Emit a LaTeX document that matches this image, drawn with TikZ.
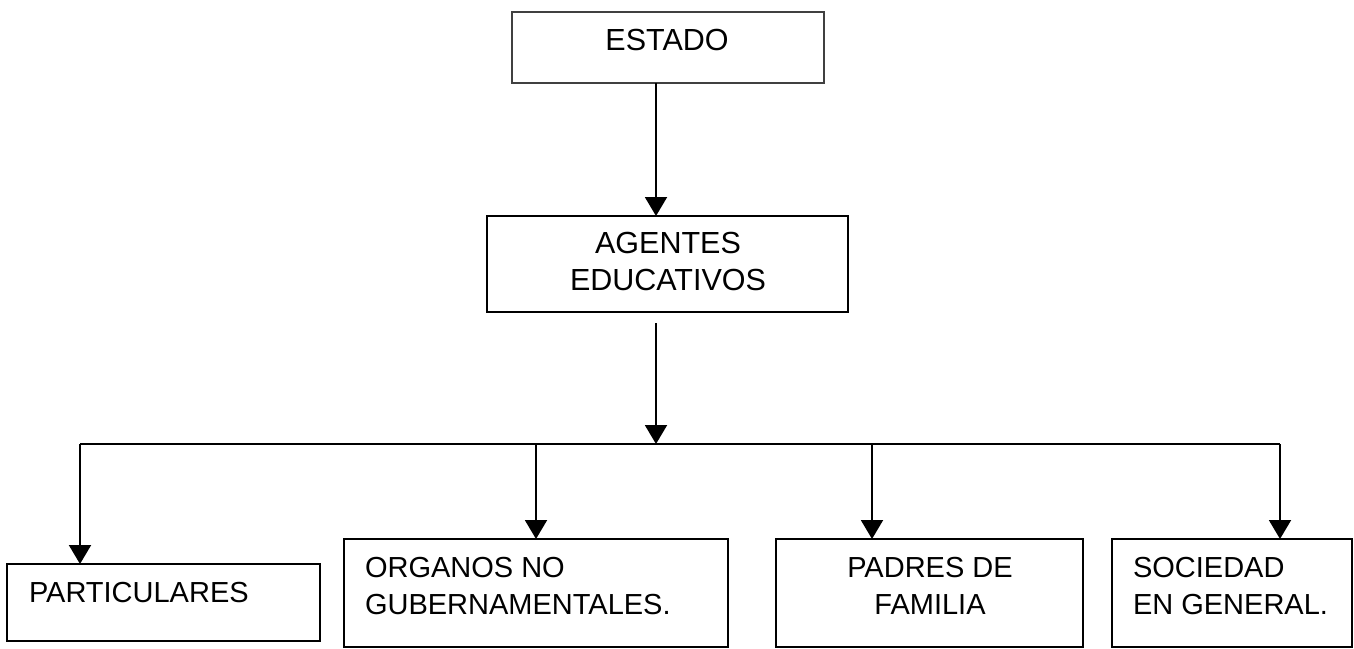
\documentclass[tikz,border=0pt]{standalone}
\usepackage{fontspec}
\setmainfont{Liberation Sans}
\usetikzlibrary{arrows.meta}
\tikzset{
  box/.style={draw=black, line width=2pt, inner sep=0pt, outer sep=0pt, rectangle},
  thinbox/.style={draw=black!75, line width=1.3pt, inner sep=0pt, outer sep=0pt, rectangle},
  txt/.style={inner sep=0pt, outer sep=0pt, font=\fontsize{29}{37}\selectfont},
  bigtxt/.style={inner sep=0pt, outer sep=0pt, font=\fontsize{30.5}{37}\selectfont},
  conn/.style={line width=2pt, draw=black},
  arr/.style={conn, -{Triangle[width=22pt,length=19pt]}}
}
\begin{document}
\begin{tikzpicture}[x=1pt,y=-1pt]
\useasboundingbox[fill=white] (0,0) rectangle (1354,648);
% boxes
\node[thinbox, minimum width=312pt, minimum height=71pt] (estado) at (668,47.5) {};
\node[box, minimum width=361pt, minimum height=96pt] (agentes) at (667.5,264) {};
\node[box, minimum width=313pt, minimum height=77pt] (part) at (163.5,602.5) {};
\node[box, minimum width=384pt, minimum height=108pt] (org) at (536,593) {};
\node[box, minimum width=307pt, minimum height=108pt] (padres) at (929.5,593) {};
\node[box, minimum width=240pt, minimum height=108pt] (soc) at (1232,593) {};
% texts
\node[bigtxt, anchor=north] (testado) at (667,29.5) {ESTADO};
\node[bigtxt, anchor=north, align=center] (tagentes) at (668,232) {AGENTES\\EDUCATIVOS};
\node[txt, anchor=north west] (tpart) at (29,582) {PARTICULARES};
\node[txt, anchor=north west, align=left] (torg) at (365,557) {ORGANOS NO\\GUBERNAMENTALES.};
\node[txt, anchor=north, align=center] (tpadres) at (930,557) {PADRES DE\\FAMILIA};
\node[txt, anchor=north west, align=left] (tsoc) at (1133,557) {SOCIEDAD\\EN GENERAL.};
% connectors
\coordinate (tx) at (656,0);
\coordinate (j) at (656,444);
\coordinate (h1) at (80,444);
\coordinate (h2) at (536,444);
\coordinate (h3) at (872,444);
\coordinate (h4) at (1280,444);
\draw[arr] (estado.south -| tx) -- (agentes.north -| tx);
\draw[arr] ([yshift=-11pt]agentes.south -| tx) -- (j);
\draw[conn] (h1) -- (h4);
\draw[arr] (h1) -- (part.north -| h1);
\draw[arr] (h2) -- (org.north -| h2);
\draw[arr] (h3) -- (padres.north -| h3);
\draw[arr] (h4) -- (soc.north -| h4);
\end{tikzpicture}
\end{document}
